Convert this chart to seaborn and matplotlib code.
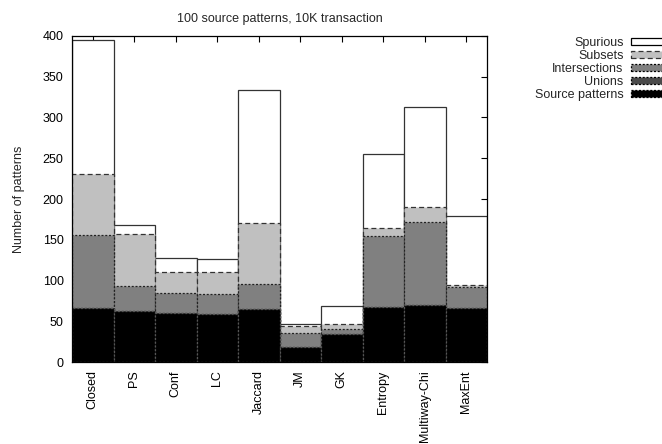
import numpy as np
import pandas as pd
import matplotlib
matplotlib.use("Agg")
import matplotlib.pyplot as plt
from matplotlib.patches import Patch
import seaborn as sns

# Pattern-mining methods compared
methods = ["Closed", "PS", "Conf", "LC", "Jaccard", "JM", "GK",
           "Entropy", "Multiway-Chi", "MaxEnt"]

# Segment heights of each stacked layer (bottom to top)
source_patterns = [66, 63, 60, 59, 65, 18, 34, 67, 70, 66]
unions          = [0, 0, 0, 0, 0, 0, 0, 0, 0, 0]
intersections   = [90, 30, 25, 25, 31, 18, 6, 88, 102, 26]
subsets         = [75, 64, 26, 26, 74, 8, 7, 10, 18, 2]
spurious        = [164, 11, 16, 16, 164, 3, 22, 90, 123, 85]

layer_names = ["Source patterns", "Unions", "Intersections", "Subsets", "Spurious"]
layer_values = [source_patterns, unions, intersections, subsets, spurious]

sns.set_theme(style="white")
plt.rcParams["font.family"] = ["Liberation Sans", "DejaVu Sans"]
plt.rcParams["font.size"] = 9

df = pd.DataFrame(dict(zip(layer_names, layer_values)), index=methods)
cum = df.cumsum(axis=1)

styles = {
    "Spurious":        dict(face="white",   edge="#333333", ls="-"),
    "Subsets":         dict(face="#c0c0c0", edge="#333333", ls=(0, (4, 2.5))),
    "Intersections":   dict(face="#808080", edge="#222222", ls=(0, (1.6, 1.4))),
    "Unions":          dict(face="#4a4a4a", edge="#222222", ls=(0, (1.6, 1.4))),
    "Source patterns": dict(face="black",   edge="#555555", ls=(0, (1.6, 1.4))),
}

fig = plt.figure(figsize=(6.62, 4.44), dpi=100)
ax = fig.add_axes([72 / 662, 1 - 362 / 444, 415 / 662, 326 / 444])

# Stack by drawing cumulative heights, tallest first
for name in reversed(layer_names):
    st = styles[name]
    sns.barplot(x=methods, y=cum[name].values, order=methods, ax=ax,
                color=st["face"], saturation=1, width=1.0, errorbar=None,
                edgecolor=st["edge"], linewidth=0.9, linestyle=st["ls"])

ax.set_xlim(-0.5, len(methods) - 0.5)
ax.set_ylim(0, 400)
ax.set_yticks(np.arange(0, 401, 50))
ax.set_xticks(range(len(methods)))
ax.set_xticklabels(methods, rotation=90, va="top", ha="center")
ax.tick_params(axis="both", direction="in", length=4, width=0.8,
               top=True, right=True, labelsize=9, colors="black")
ax.tick_params(axis="x", pad=6)
ax.tick_params(axis="y", pad=6)
for sp in ax.spines.values():
    sp.set_color("black")
    sp.set_linewidth(0.9)
    sp.set_visible(True)
ax.set_xlabel("")
ax.set_ylabel("Number of patterns", fontsize=9, labelpad=13)
ax.set_title("100 source patterns, 10K transaction", fontsize=9, pad=10)

handles = []
for name in ["Spurious", "Subsets", "Intersections", "Unions", "Source patterns"]:
    st = styles[name]
    handles.append(Patch(facecolor=st["face"], edgecolor="black" if name != "Subsets" else "#333333",
                         linestyle=st["ls"], linewidth=0.9, label=name))
fig.legend(handles=handles, loc="upper right", bbox_to_anchor=(666 / 662, 1 - 37 / 444),
           frameon=False, markerfirst=False, fontsize=9, handlelength=2.8,
           handleheight=0.45, handletextpad=0.6, labelspacing=0.08,
           borderpad=0, borderaxespad=0)

fig.savefig("out.png", dpi=100)
